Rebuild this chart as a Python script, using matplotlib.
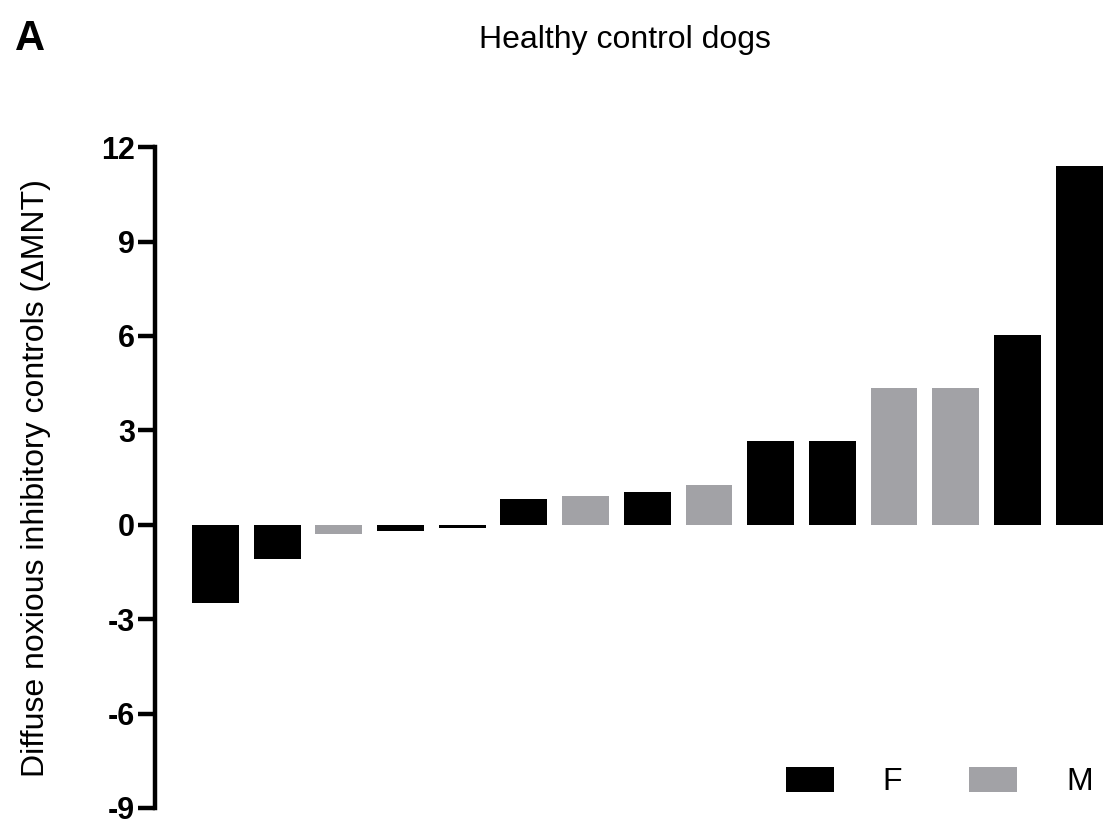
import matplotlib
matplotlib.use("Agg")
import matplotlib.pyplot as plt
from matplotlib.patches import Patch

plt.rcParams['font.family'] = ['Liberation Sans', 'DejaVu Sans']

values = [-2.5, -1.1, -0.3, -0.2, -0.1, 0.83, 0.9, 1.05, 1.27, 2.67, 2.67, 4.35, 4.35, 6.03, 11.4]
sexes = ['F', 'F', 'M', 'F', 'F', 'F', 'M', 'F', 'M', 'F', 'F', 'M', 'M', 'F', 'F']
yticks = [-9, -6, -3, 0, 3, 6, 9, 12]
colors_map = {'F': '#000000', 'M': '#a2a2a6'}

fig = plt.figure(figsize=(11.05, 8.27), dpi=100)
ax = fig.add_axes([0.1403, 0.023, 0.8597, 0.799])

x = list(range(len(values)))
ax.bar(x, values, width=0.76, color=[colors_map[s] for s in sexes], edgecolor='none')

ax.set_ylim(-9, 12)
ax.set_xlim(-0.98, 14.42)
ax.set_yticks(yticks)
ax.set_yticklabels([str(t) for t in yticks], fontweight='bold', fontsize=22)
ax.set_xticks([])
for s in ['top', 'right', 'bottom']:
    ax.spines[s].set_visible(False)
ax.spines['left'].set_linewidth(3.2)
ax.tick_params(axis='y', length=12.5, width=3.2, pad=2)

ax.set_ylabel('Diffuse noxious inhibitory controls (ΔMNT)', fontsize=23)
ax.yaxis.set_label_coords(-0.11, 0.5)

handles = [Patch(facecolor=colors_map['F'], label='F'), Patch(facecolor=colors_map['M'], label='M')]
ax.legend(handles=handles, ncol=2, loc='center right', bbox_to_anchor=(0.987, 0.039),
          frameon=False, fontsize=23, handlelength=1.5, handleheight=0.81,
          handletextpad=1.53, columnspacing=2.1, borderpad=0, borderaxespad=0)

fig.text(0.566, 0.942, 'Healthy control dogs', fontsize=23, ha='center', va='baseline')
fig.text(0.027, 0.9395, 'A', fontsize=30, fontweight='bold', ha='center', va='baseline')

fig.savefig('out.png', dpi=100)
